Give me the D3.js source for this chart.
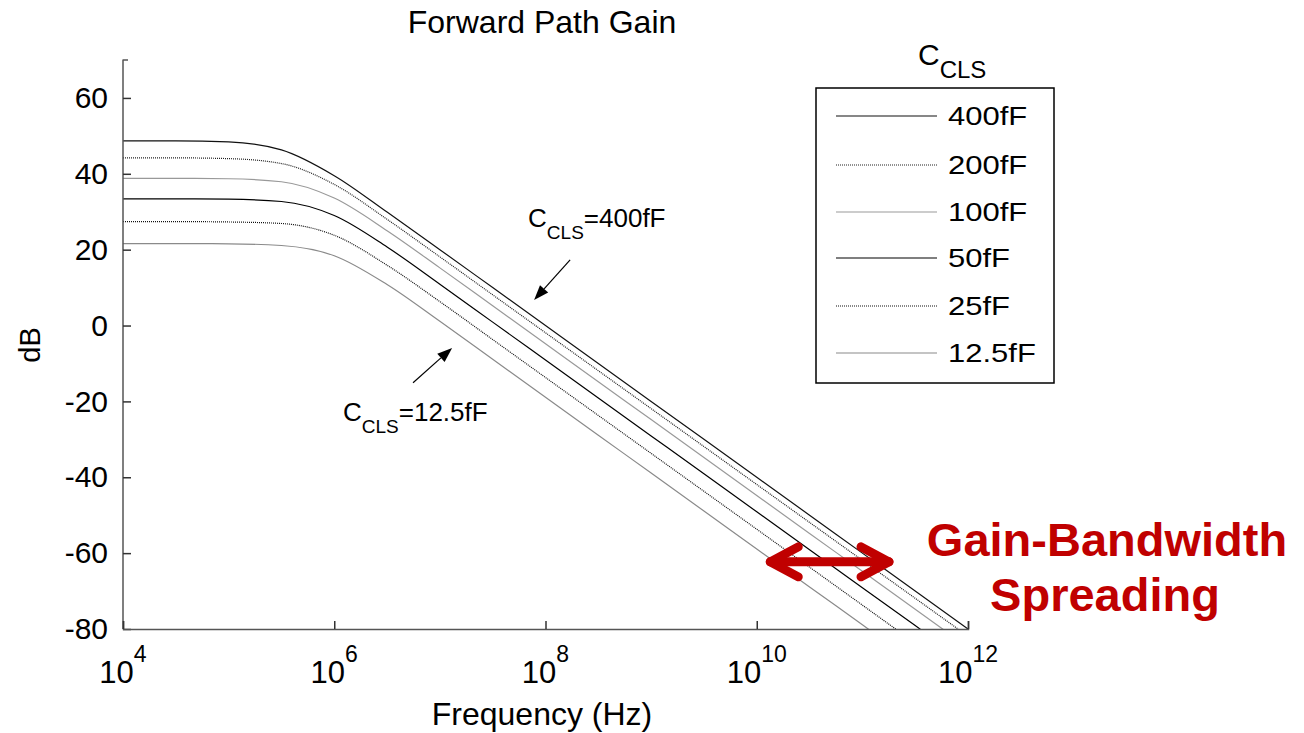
<!DOCTYPE html>
<html>
<head>
<meta charset="utf-8">
<script src="https://cdn.jsdelivr.net/npm/d3@7"></script>
<style>
  html, body { margin: 0; padding: 0; background: #fff; }
  svg { display: block; font-family: "Liberation Sans", Arial, Helvetica, sans-serif; }
</style>
</head>
<body>
<svg id="chart" width="1304" height="733"></svg>
<script>
// ---- data ----
const freqExp = [4, 4.5, 5, 5.5, 6, 6.5, 7, 7.5, 8, 8.5, 9, 9.5, 10, 10.5, 11, 11.5, 12];
const seriesNames = ["400fF", "200fF", "100fF", "50fF", "25fF", "12.5fF"];
const gain400  = [48.7, 48.7, 48.4, 46.3, 39.5, 29.9, 20.0, 10.0, 0.0, -10.0, -20.0, -30.0, -40.0, -50.0, -60.0, -70.0, -80.0];
const gain200  = [44.2, 44.2, 44.0, 42.7, 37.2, 28.0, 18.1, 8.1, -1.9, -11.9, -21.9, -31.9, -41.9, -51.9, -61.9, -71.9, -81.9];
const gain100  = [38.8, 38.8, 38.7, 37.9, 33.6, 25.0, 15.2, 5.2, -4.8, -14.8, -24.8, -34.8, -44.8, -54.8, -64.8, -74.8, -84.8];
const gain50   = [33.4, 33.4, 33.3, 32.7, 29.0, 20.7, 10.9, 0.9, -9.1, -19.1, -29.1, -39.1, -49.1, -59.1, -69.1, -79.1, -89.1];
const gain25   = [27.4, 27.4, 27.3, 26.9, 23.8, 15.9, 6.3, -3.7, -13.7, -23.7, -33.7, -43.7, -53.7, -63.7, -73.7, -83.7, -93.7];
const gain12_5 = [21.6, 21.6, 21.55, 21.1, 18.4, 10.8, 1.1, -8.9, -18.9, -28.9, -38.9, -48.9, -58.9, -68.9, -78.9, -88.9, -98.9];
const seriesGains = [gain400, gain200, gain100, gain50, gain25, gain12_5];
const xTickExp = [4, 6, 8, 10, 12];
const yTicks = [-80, -60, -40, -20, 0, 20, 40, 60];

// ---- styles ----
const styles = [
  { color: "#111", dash: null, width: 1.2 },
  { color: "#222", dash: "1,1", width: 1.2 },
  { color: "#999", dash: null, width: 1.2 },
  { color: "#000", dash: null, width: 1.2 },
  { color: "#111", dash: "1,1", width: 1.2 },
  { color: "#8a8a8a", dash: null, width: 1.2 }
];
const RED = "#c00000";

const svg = d3.select("#chart");
const x = d3.scaleLog().domain([1e4, 1e12]).range([123, 968]);
const y = d3.scaleLinear().domain([-80, 70]).range([629, 60]);

// clip
svg.append("defs").append("clipPath").attr("id", "plotclip")
  .append("rect").attr("x", x(1e4)).attr("y", y(70)).attr("width", x(1e12) - x(1e4) + 1).attr("height", y(-80) - y(70) + 1);

// curves
const line = d3.line()
  .x(d => x(Math.pow(10, d[0])))
  .y(d => y(d[1]))
  .curve(d3.curveMonotoneX);

const gCurves = svg.append("g").attr("clip-path", "url(#plotclip)");
seriesGains.forEach((g, i) => {
  gCurves.append("path")
    .datum(freqExp.map((e, j) => [e, g[j]]))
    .attr("d", line)
    .attr("fill", "none")
    .attr("stroke", styles[i].color)
    .attr("stroke-width", styles[i].width)
    .attr("stroke-dasharray", styles[i].dash);
});

// axes
const yAxis = d3.axisLeft(y).tickValues(yTicks).tickSize(-8).tickPadding(15).tickFormat(d => String(d));
const gy = svg.append("g").attr("transform", `translate(${x(1e4)},0)`).call(yAxis);
gy.select(".domain").attr("stroke", "#555").attr("stroke-width", 1.5).attr("d", `M-0.5,${y(70)}H5M0,${y(70)}V${y(-80)}`);
gy.selectAll(".tick line").attr("stroke", "#333").attr("stroke-width", 1.5);
gy.selectAll(".tick text").attr("font-size", 30).attr("fill", "#000")
  .attr("font-family", "'Liberation Sans', Arial, sans-serif");

const xAxis = d3.axisBottom(x).tickValues(xTickExp.map(e => Math.pow(10, e))).tickSize(-8).tickFormat("");
const gx = svg.append("g").attr("transform", `translate(0,${y(-80)})`).call(xAxis);
gx.select(".domain").attr("stroke", "#555").attr("stroke-width", 1.5);
gx.selectAll(".tick line").attr("stroke", "#333").attr("stroke-width", 1.5);

// x tick labels with superscripts
xTickExp.forEach(e => {
  const t = svg.append("text")
    .attr("x", x(Math.pow(10, e)))
    .attr("y", 683)
    .attr("text-anchor", "middle")
    .attr("font-size", 31)
    .attr("fill", "#000");
  t.append("tspan").text("10");
  t.append("tspan").attr("dy", -21).attr("font-size", 23).text(String(e));
});

// titles
svg.append("text").attr("x", 542).attr("y", 33).attr("text-anchor", "middle")
  .attr("font-size", 32).attr("fill", "#000").text("Forward Path Gain");
svg.append("text").attr("x", 542).attr("y", 725).attr("text-anchor", "middle")
  .attr("font-size", 32).attr("fill", "#000").text("Frequency (Hz)");
svg.append("text").attr("transform", "translate(40,345) rotate(-90)").attr("text-anchor", "middle")
  .attr("font-size", 29).attr("fill", "#000").text("dB");

// legend
const leg = svg.append("g");
leg.append("rect").attr("x", 816).attr("y", 88).attr("width", 238).attr("height", 295)
  .attr("fill", "#fff").attr("stroke", "#000").attr("stroke-width", 1.5);
const legRows = [116, 165, 212, 258, 306, 353];
seriesNames.forEach((n, i) => {
  leg.append("line").attr("x1", 836).attr("x2", 937).attr("y1", legRows[i]).attr("y2", legRows[i])
    .attr("stroke", styles[i].color).attr("stroke-width", styles[i].width)
    .attr("stroke-dasharray", styles[i].dash);
  leg.append("text").attr("transform", `translate(948,${legRows[i] + 9}) scale(1.24,1)`)
    .attr("font-size", 25).attr("fill", "#000").text(n);
});
const lt = leg.append("text").attr("x", 918).attr("y", 65).attr("font-size", 30).attr("fill", "#000");
lt.append("tspan").text("C");
lt.append("tspan").attr("dy", 13).attr("font-size", 24).text("CLS");

// annotations
function annot(txtExp, txtDb, label, tailExp, tailDb, tipExp, tipDb) {
  const t = svg.append("text").attr("x", x(Math.pow(10, txtExp))).attr("y", y(txtDb))
    .attr("font-size", 26).attr("fill", "#000");
  t.append("tspan").text("C");
  t.append("tspan").attr("dy", 12).attr("font-size", 19).text("CLS");
  t.append("tspan").attr("dy", -12).text(label);
  const x1 = x(Math.pow(10, tailExp)), y1 = y(tailDb), x2 = x(Math.pow(10, tipExp)), y2 = y(tipDb);
  const ang = Math.atan2(y2 - y1, x2 - x1);
  const L = 15, W = 5.5;
  const bx = x2 - L * Math.cos(ang), by = y2 - L * Math.sin(ang);
  svg.append("line").attr("x1", x1).attr("y1", y1).attr("x2", bx).attr("y2", by)
    .attr("stroke", "#000").attr("stroke-width", 1.2);
  svg.append("path")
    .attr("d", `M${x2},${y2}L${bx + W * Math.sin(ang)},${by - W * Math.cos(ang)}L${bx - W * Math.sin(ang)},${by + W * Math.cos(ang)}Z`)
    .attr("fill", "#000");
}
annot(7.835, 26.0, "=400fF", 8.233, 17.3, 7.892, 6.7);
annot(6.083, -25.2, "=12.5fF", 6.746, -15.1, 7.116, -5.9);

// red double arrow
const ax1 = x(Math.pow(10, 10.09)), ax2 = x(Math.pow(10, 11.29)), ay = y(-62.3);
const ra = svg.append("g").attr("stroke", RED).attr("stroke-width", 9).attr("stroke-linecap", "round")
  .attr("stroke-linejoin", "round").attr("fill", "none");
ra.append("line").attr("x1", ax1 + 4).attr("x2", ax2 - 4).attr("y1", ay).attr("y2", ay);
ra.append("path").attr("d", `M${ax1 + 32},${ay - 15}L${ax1 + 4},${ay}L${ax1 + 32},${ay + 15}`);
ra.append("path").attr("d", `M${ax2 - 32},${ay - 15}L${ax2 - 4},${ay}L${ax2 - 32},${ay + 15}`);

svg.append("text").attr("x", 1107).attr("y", 556).attr("text-anchor", "middle")
  .attr("font-size", 47).attr("font-weight", "bold").attr("fill", RED).text("Gain-Bandwidth");
svg.append("text").attr("x", 1105).attr("y", 611).attr("text-anchor", "middle")
  .attr("font-size", 47).attr("font-weight", "bold").attr("fill", RED).text("Spreading");
</script>
</body>
</html>
